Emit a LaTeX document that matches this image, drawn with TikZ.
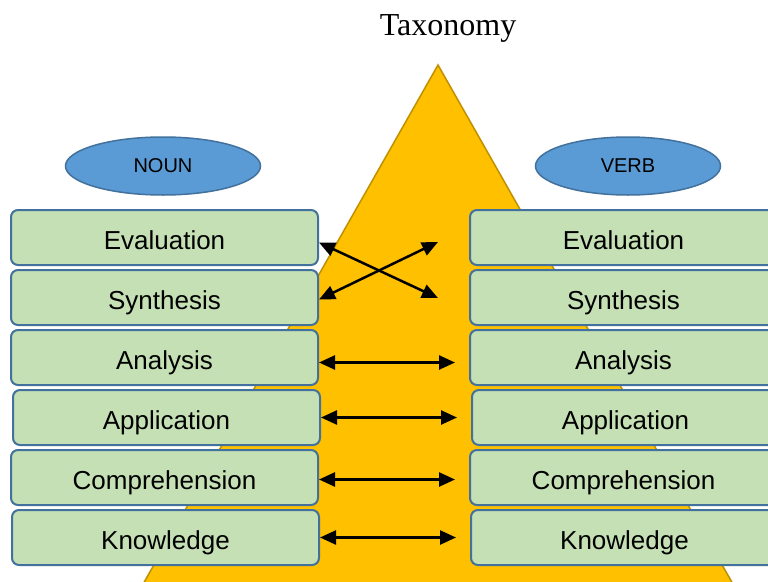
\documentclass[tikz,border=0pt]{standalone}
\usepackage{fontspec}
\setmainfont{Liberation Sans}
\newfontfamily\titlefont{Liberation Serif}
\usetikzlibrary{arrows.meta,positioning,shapes.geometric}

\definecolor{pyramid}{HTML}{FFC000}
\definecolor{pyramidedge}{HTML}{BF9000}
\definecolor{levelfill}{HTML}{C5E0B4}
\definecolor{leveledge}{HTML}{41719C}
\definecolor{ovalfill}{HTML}{5B9BD5}

\tikzset{
    level/.style={draw=leveledge, line width=2pt, fill=levelfill, rounded corners=7pt,
        minimum width=307pt, minimum height=55pt, inner sep=0pt,
        text height=24pt, text depth=0pt,
        font=\fontsize{26}{30}\selectfont},
    oval/.style={ellipse, draw=leveledge, line width=1.5pt, fill=ovalfill,
        minimum width=195pt, minimum height=58pt, inner sep=0pt,
        font=\fontsize{20}{24}\selectfont},
    link/.style={{Triangle[length=16pt,width=14pt]}-{Triangle[length=16pt,width=14pt]}, line width=2.5pt}
}

\begin{document}
\begin{tikzpicture}[x=1pt,y=-1pt]
    \useasboundingbox (0,0) rectangle (768,581);
    \fill[white] (0,0) rectangle (768,581);

    % pyramid
    \draw[pyramidedge, fill=pyramid, line width=1.5pt] (438,65) -- (134,600) -- (742,600) -- cycle;

    \node[font=\titlefont\fontsize{32}{38}\selectfont] (title) at (448,28) {Taxonomy};

    \node[oval] (noun) at (163,166) {NOUN};
    \node[oval, minimum width=185pt] (verb) at (628,166) {VERB};

    % noun column
    \node[level] (nEval) at (164.5,237.5) {Evaluation};
    \node[level, below=3pt of nEval] (nSynth) {Synthesis};
    \node[level, below=3pt of nSynth] (nAnal) {Analysis};
    \node[level, below=3pt of nAnal, xshift=2pt] (nAppl) {Application};
    \node[level, below=3pt of nAppl, xshift=-2pt] (nComp) {Comprehension};
    \node[level, below=3pt of nComp, xshift=1pt] (nKnow) {Knowledge};

    % verb column
    \node[level, right=150pt of nEval] (vEval) {Evaluation};
    \node[level, right=150pt of nSynth] (vSynth) {Synthesis};
    \node[level, right=150pt of nAnal] (vAnal) {Analysis};
    \node[level, right=150pt of nAppl] (vAppl) {Application};
    \node[level, right=150pt of nComp] (vComp) {Comprehension};
    \node[level, right=150pt of nKnow] (vKnow) {Knowledge};

    % crossed links
    \coordinate (xTop) at (438,242);
    \coordinate (xBot) at (438,298);
    \draw[link] ([yshift=-5pt]nEval.east) -- (xBot);
    \draw[link] ([yshift=-2pt]nSynth.east) -- (xTop);

    % straight links
    \draw[link, shorten >=14pt] ([yshift=-5pt]nAnal.east) -- ([yshift=-5pt]nAnal.east -| vAnal.west);
    \draw[link, shorten >=14pt] (nAppl.east) -- (nAppl.east -| vAppl.west);
    \draw[link, shorten >=14pt] ([yshift=-2pt]nComp.east) -- ([yshift=-2pt]nComp.east -| vComp.west);
    \draw[link, shorten >=14pt] (nKnow.east) -- (nKnow.east -| vKnow.west);
\end{tikzpicture}
\end{document}
